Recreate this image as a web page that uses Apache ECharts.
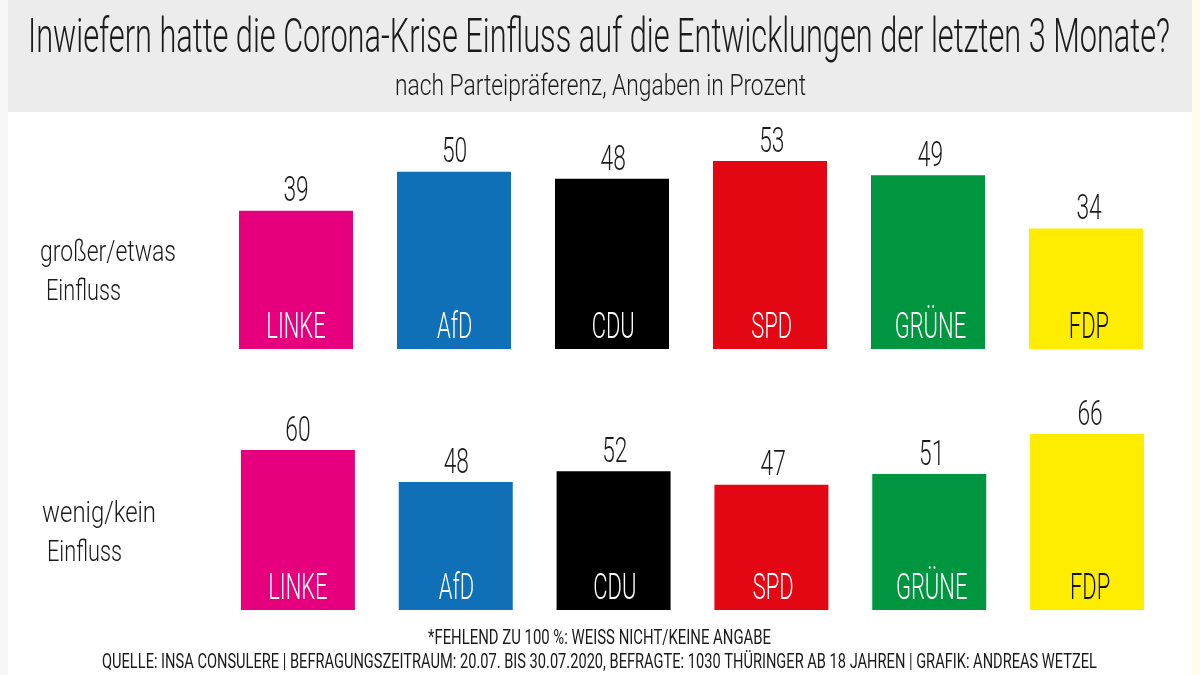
<!doctype html>
<html>
<head>
<meta charset="UTF-8">
<title></title>
<style>
html,body{margin:0;padding:0;background:#fff;}
#chart{width:1200px;height:675px;}
</style>
<script src="https://cdn.jsdelivr.net/npm/echarts@6/dist/echarts.min.js"></script>
</head>
<body>
<div id="chart"></div>
<script>
var titleText = 'Inwiefern hatte die Corona-Krise Einfluss auf die Entwicklungen der letzten 3 Monate?';
var subtitleText = 'nach Parteipräferenz, Angaben in Prozent';
var footnoteText = '*FEHLEND ZU 100 %: WEISS NICHT/KEINE ANGABE';
var sourceText = 'QUELLE: INSA CONSULERE | BEFRAGUNGSZEITRAUM: 20.07. BIS 30.07.2020, BEFRAGTE: 1030 THÜRINGER AB 18 JAHREN | GRAFIK: ANDREAS WETZEL';
var parties = ['LINKE', 'AfD', 'CDU', 'SPD', 'GRÜNE', 'FDP'];
var partyColors = ['#e6007e', '#0f6fb7', '#000000', '#e30613', '#009640', '#ffed00'];
var nameColors = ['#ffffff', '#ffffff', '#ffffff', '#ffffff', '#ffffff', '#111111'];
var grosserEinfluss = [39, 50, 48, 53, 49, 34];
var wenigEinfluss = [60, 48, 52, 47, 51, 66];

// no condensed font installed, so the text is squeezed with scaleX
var font = 'Roboto, sans-serif';
var ink = '#1a1a1a';
var chart = echarts.init(document.getElementById('chart'));
var measure = document.createElement('canvas').getContext('2d');

function fitScale(str, size, width, weight) {
	measure.font = weight + ' ' + size + 'px ' + font;
	return width / measure.measureText(str).width;
}

function xAxis(gridIndex) {
	return {
		type: 'category',
		gridIndex: gridIndex,
		data: parties,
		axisLine: { show: false },
		axisTick: { show: false },
		axisLabel: { show: false }
	};
}

function yAxis(gridIndex, max) {
	return { type: 'value', gridIndex: gridIndex, min: 0, max: max, show: false };
}

function bars(axisIndex, values) {
	return {
		type: 'bar',
		xAxisIndex: axisIndex,
		yAxisIndex: axisIndex,
		barWidth: 114,
		silent: true,
		data: values.map(function (v, i) {
			return { value: v, itemStyle: { color: partyColors[i] } };
		})
	};
}

function barText(str, x, y, size, scaleX, color) {
	return {
		type: 'text',
		x: x,
		y: y,
		scaleX: scaleX,
		style: { text: str, fontFamily: font, fontWeight: 300, fontSize: size, fill: color, align: 'center', verticalAlign: 'middle' }
	};
}

// value above the bar, party name at the foot of it
function barLabels(axisIndex, values) {
	return {
		type: 'custom',
		xAxisIndex: axisIndex,
		yAxisIndex: axisIndex,
		silent: true,
		z: 5,
		data: values.map(function (v, i) { return [i, v]; }),
		renderItem: function (params, api) {
			var i = api.value(0);
			var v = api.value(1);
			var top = api.coord([i, v]);
			var base = api.coord([i, 0]);
			// the labels drift slightly right of the bars towards FDP
			var drift = 0.6 * i;
			return {
				type: 'group',
				children: [
					barText(String(v), top[0] + drift, top[1] - 18, 35, 0.65, ink),
					barText(parties[i], base[0] + drift, base[1] - 20, 36, 0.61, nameColors[i])
				]
			};
		}
	};
}

function text(str, left, width, y, size, weight) {
	return {
		type: 'text',
		x: left,
		y: y,
		scaleX: fitScale(str, size, width, weight),
		z: 10,
		style: { text: str, fontFamily: font, fontWeight: weight, fontSize: size, fill: ink, align: 'left', verticalAlign: 'middle' }
	};
}

var option = {
	backgroundColor: '#ffffff',
	animation: false,
	grid: [
		{ left: 217, width: 948, top: 136.2, height: 212.8 },
		{ left: 219, width: 947, top: 423.3, height: 186.7 }
	],
	xAxis: [xAxis(0), xAxis(1)],
	yAxis: [yAxis(0, 60), yAxis(1, 70)],
	series: [
		bars(0, grosserEinfluss), bars(1, wenigEinfluss),
		barLabels(0, grosserEinfluss), barLabels(1, wenigEinfluss)
	],
	graphic: [
		{ type: 'rect', shape: { x: 0, y: 0, width: 8, height: 675 }, style: { fill: '#f7f7f7' } },
		{ type: 'rect', shape: { x: 1192, y: 0, width: 8, height: 675 }, style: { fill: '#fffbea' } },
		{ type: 'rect', shape: { x: 8, y: 0, width: 1184, height: 112 }, style: { fill: '#ececec' } },
		text(titleText, 28, 1142, 40, 49, 300),
		text(subtitleText, 395, 411, 87, 30, 300),
		text('großer/etwas', 40, 136, 253, 30, 300),
		text('Einfluss', 46, 75, 292, 30, 300),
		text('wenig/kein', 42, 114, 514, 30, 300),
		text('Einfluss', 47, 75, 553, 30, 300),
		text(footnoteText, 428, 343, 639, 21, 400),
		text(sourceText, 102, 995, 663, 21, 400)
	]
};
chart.setOption(option);
</script>
</body>
</html>
